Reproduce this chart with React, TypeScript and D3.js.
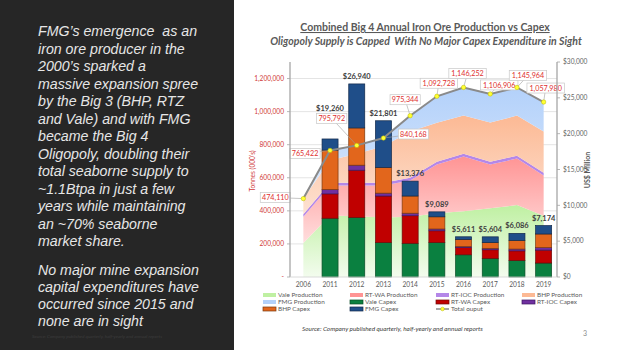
import React from 'react'
import * as d3 from 'd3'

// Data
const years = ['2006', '2011', '2012', '2013', '2014', '2015', '2016', '2017', '2018', '2019']

// production, tonnes (000's)
const valeProd = [205000, 372000, 368000, 360000, 365000, 385000, 398000, 415000, 435000, 370000]
const rtwaProd = [160000, 181000, 185000, 193000, 218000, 295000, 330000, 265000, 281000, 243000]
const rtiocProd = [15000, 17000, 17000, 17000, 17000, 17000, 17000, 17000, 17000, 17000]
const bhpProd = [94110, 135422, 175792, 220168, 279344, 235728, 231252, 236906, 242964, 249980]
const fmgProd = [0, 60000, 50000, 50000, 96000, 160000, 170000, 173000, 170000, 178000]
const totalOutput = [474110, 765422, 795792, 840168, 975344, 1092728, 1146252, 1106906, 1145964, 1057980]

// capex, US$ million
const valeCapex = [0, 8200, 8300, 4800, 4700, 4800, 3100, 2600, 2300, 1950]
const rtwaCapex = [0, 3400, 6600, 6500, 3850, 1650, 1000, 1200, 1350, 1800]
const rtiocCapex = [0, 600, 700, 400, 350, 250, 150, 200, 250, 350]
const bhpCapex = [0, 5500, 5200, 3600, 2400, 1700, 1000, 800, 1200, 1900]
const fmgCapex = [0, 1560, 6140, 6501, 2076, 689, 361, 804, 986, 1174]

const leftTicks = [0, 200000, 400000, 600000, 800000, 1000000, 1200000]
const rightTicks = [0, 5000, 10000, 15000, 20000, 25000, 30000]

const leftText = [
  'FMG’s emergence  as an',
  'iron ore producer in the',
  '2000’s sparked a',
  'massive expansion spree',
  'by the Big 3 (BHP, RTZ',
  'and Vale) and with FMG',
  'became the Big 4',
  'Oligopoly, doubling their',
  'total seaborne supply to',
  '~1.1Btpa in just a few',
  'years while maintaining',
  'an ~70% seaborne',
  'market share.',
]
const leftText2 = [
  'No major mine expansion',
  'capital expenditures have',
  'occurred since 2015 and',
  'none are in sight',
]

const prodKeys = ['vale', 'rtwa', 'rtioc', 'bhp', 'fmg']
const capexKeys = ['vale', 'rtwa', 'rtioc', 'bhp', 'fmg']

const prodFill: Record<string, [string, string]> = {
  vale: ['#bff0a2', '#f3fcee'],
  rtwa: ['#ff9494', '#ffdede'],
  rtioc: ['#b487e8', '#b487e8'],
  bhp: ['#fcb994', '#fde2d2'],
  fmg: ['#b3d1fa', '#d8e7fc'],
}
const capexFill: Record<string, string> = {
  vale: '#0a8040',
  rtwa: '#c00000',
  rtioc: '#7030a0',
  bhp: '#e2661c',
  fmg: '#1f4e89',
}
const capexStroke: Record<string, string> = {
  vale: '#0b4d27',
  rtwa: '#6d0a0a',
  rtioc: '#3d1660',
  bhp: '#7a3a10',
  fmg: '#12294a',
}

// offsets of the total output labels from their points
const labelOffsets = [
  [-28, -1], [-25, 3], [-25, -27], [30, -4], [-5, -16],
  [2, -13], [4, -14], [9, -9], [11, -12], [2, -14],
]

const legendItems = [
  { name: 'Vale Production', kind: 'prod', key: 'vale' },
  { name: 'RT-WA Production', kind: 'prod', key: 'rtwa' },
  { name: 'RT-IOC Production', kind: 'prod', key: 'rtioc' },
  { name: 'BHP Production', kind: 'prod', key: 'bhp' },
  { name: 'FMG Production', kind: 'prod', key: 'fmg' },
  { name: 'Vale Capex', kind: 'capex', key: 'vale' },
  { name: 'RT-WA Capex', kind: 'capex', key: 'rtwa' },
  { name: 'RT-IOC Capex', kind: 'capex', key: 'rtioc' },
  { name: 'BHP Capex', kind: 'capex', key: 'bhp' },
  { name: 'FMG Capex', kind: 'capex', key: 'fmg' },
  { name: 'Total ouput', kind: 'line', key: 'total' },
]

const font = 'Lato, "Open Sans", sans-serif'
const panelFont = '"Liberation Sans", Arial, sans-serif'

export default function App() {
  const W = 623
  const H = 350

  const x = d3.scaleBand().domain(years).range([290, 557])
  const cx = (yr: string) => (x(yr) as number) + x.bandwidth() / 2
  const barW = x.bandwidth() * 0.6
  const yL = d3.scaleLinear().domain([0, 1300000]).range([277, 62])
  const yR = d3.scaleLinear().domain([0, 30000]).range([277, 62])

  const prodRows = years.map((yr, i) => ({
    year: yr,
    vale: valeProd[i],
    rtwa: rtwaProd[i],
    rtioc: rtiocProd[i],
    bhp: bhpProd[i],
    fmg: fmgProd[i],
  }))
  const capexRows = years.map((yr, i) => ({
    year: yr,
    vale: valeCapex[i],
    rtwa: rtwaCapex[i],
    rtioc: rtiocCapex[i],
    bhp: bhpCapex[i],
    fmg: fmgCapex[i],
  }))

  const prodStack = d3.stack<any>().keys(prodKeys)(prodRows)
  const capexStack = d3.stack<any>().keys(capexKeys)(capexRows)

  const area = d3
    .area<any>()
    .x(d => cx(d.data.year))
    .y0(d => yL(d[0]))
    .y1(d => yL(d[1]))

  const line = d3
    .line<number>()
    .x((d, i) => cx(years[i]))
    .y(d => yL(d))

  const fmtL = d3.format(',')
  const fmtR = d3.format('$,')

  const panelText = { fontStyle: 'italic', whiteSpace: 'pre' } as React.CSSProperties

  return (
    <svg width={W} height={H} style={{ display: 'block', fontFamily: font }}>
      <style>{`body{margin:0}`}</style>
      <rect width={W} height={H} fill="#ffffff" />
      <defs>
        {prodKeys.map(k => (
          <linearGradient key={k} id={'g-' + k} x1="0" y1="0" x2="0" y2="1">
            <stop offset="0" stopColor={prodFill[k][0]} />
            <stop offset="1" stopColor={prodFill[k][1]} />
          </linearGradient>
        ))}
      </defs>

      {/* left text panel */}
      <rect x={0} y={0} width={234} height={H} fill="#262626" />
      <g fill="#e6e6e6" fontSize={14.2} fontFamily={panelFont}>
        {leftText.map((t, i) => (
          <text key={i} x={38} y={36 + i * 17.5} fontStyle="italic" style={panelText}>
            {t}
          </text>
        ))}
        {leftText2.map((t, i) => (
          <text key={i} x={38} y={275 + i * 17} fontStyle="italic" style={panelText}>
            {t}
          </text>
        ))}
      </g>
      <text x={32} y={338} fontSize={4.6} fontStyle="italic" fill="#3d3d3d">
        Source: Company published quarterly, half-yearly and annual reports
      </text>

      {/* titles */}
      <text x={425} y={31} textAnchor="middle" fontSize={10.5} fontWeight="bold" fill="#595959" textDecoration="underline">
        Combined Big 4 Annual Iron Ore Production vs Capex
      </text>
      <text x={426} y={45} textAnchor="middle" fontSize={10.5} fontWeight="bold" fontStyle="italic" fill="#595959" style={{ whiteSpace: 'pre' }}>
        Oligopoly Supply is Capped  With No Major Capex Expenditure in Sight
      </text>

      {/* gridlines */}
      {leftTicks.slice(1).map(t => (
        <line key={t} x1={290} x2={557} y1={yL(t)} y2={yL(t)} stroke="#e4e4e4" strokeWidth={1} />
      ))}

      {/* production areas */}
      {prodStack.map(s => (
        <path key={s.key} d={area(s) as string} fill={`url(#g-${s.key})`} />
      ))}

      {/* capex bars */}
      {capexStack.map(s => (
        <g key={s.key}>
          {s.map((d: any, i: number) =>
            d[1] - d[0] > 0 ? (
              <rect
                key={i}
                x={cx(d.data.year) - barW / 2}
                y={yR(d[1])}
                width={barW}
                height={yR(d[0]) - yR(d[1])}
                fill={capexFill[s.key]}
                stroke={capexStroke[s.key]}
                strokeWidth={0.7}
              />
            ) : null
          )}
        </g>
      ))}
      {capexRows.map((r, i) => {
        const tot = capexStack[capexStack.length - 1][i][1]
        if (tot <= 0) return null
        const lift = r.year === '2011' ? 28 : 5
        return (
          <text key={i} x={cx(r.year)} y={yR(tot) - lift} textAnchor="middle" fontSize={7.5} fontWeight="bold" fill="#404040">
            {fmtR(tot)}
          </text>
        )
      })}

      {/* total output line */}
      <path d={line(totalOutput) as string} fill="none" stroke="#8a8a8a" strokeWidth={2} />
      {totalOutput.map((v, i) => {
        const px = cx(years[i])
        const py = yL(v)
        const [dx, dy] = labelOffsets[i]
        const label = fmtL(v)
        const bw = label.length * 3.6 + 5
        return (
          <g key={i}>
            <line x1={px} y1={py} x2={px + dx} y2={py + dy} stroke="#a0a0a0" strokeWidth={0.6} />
            <rect x={px + dx - bw / 2} y={py + dy - 5} width={bw} height={10} fill="#ffffff" stroke="#c8c8c8" strokeWidth={0.7} />
            <text x={px + dx} y={py + dy + 2.6} textAnchor="middle" fontSize={7.2} fill="#e0302f">
              {label}
            </text>
          </g>
        )
      })}
      {totalOutput.map((v, i) => (
        <circle key={i} cx={cx(years[i])} cy={yL(v)} r={2.2} fill="#ffff33" stroke="#b8b800" strokeWidth={0.5} />
      ))}

      {/* left axis */}
      <line x1={290} x2={290} y1={62} y2={277} stroke="#a6a6a6" strokeWidth={1.3} />
      {leftTicks.map(t => (
        <g key={t}>
          <line x1={287} x2={290} y1={yL(t)} y2={yL(t)} stroke="#a6a6a6" strokeWidth={0.8} />
          <text x={284} y={yL(t) + 2.3} textAnchor="end" fontSize={6.6} fill="#d03a3a">
            {t === 0 ? '-' : fmtL(t)}
          </text>
        </g>
      ))}
      <text transform="translate(255,171) rotate(-90)" textAnchor="middle" fontSize={6.6} fill="#d03a3a">
        Tonnes (000's)
      </text>

      {/* right axis */}
      <line x1={557} x2={557} y1={62} y2={277} stroke="#a6a6a6" strokeWidth={1.3} />
      {rightTicks.map(t => (
        <g key={t}>
          <line x1={557} x2={560} y1={yR(t)} y2={yR(t)} stroke="#a6a6a6" strokeWidth={0.8} />
          <text x={563} y={yR(t) + 2.3} fontSize={6.6} fill="#666666">
            {fmtR(t)}
          </text>
        </g>
      ))}
      <text transform="translate(590,170) rotate(-90)" textAnchor="middle" fontSize={7} fontWeight="bold" fill="#595959">
        US$ Million
      </text>

      {/* x axis */}
      <line x1={290} x2={557} y1={277} y2={277} stroke="#d0d0d0" strokeWidth={0.8} />
      {years.map(yr => (
        <text key={yr} x={cx(yr)} y={287} textAnchor="middle" fontSize={6.6} fill="#595959">
          {yr}
        </text>
      ))}

      {/* legend */}
      {legendItems.map((it, i) => {
        const col = i % 4
        const row = Math.floor(i / 4)
        const lx = [263, 350, 436, 522][col]
        const ly = 295 + row * 7
        return (
          <g key={it.name}>
            {it.kind === 'prod' && (
              <rect x={lx} y={ly - 2} width={13} height={4} fill={prodFill[it.key][0]} />
            )}
            {it.kind === 'capex' && (
              <rect x={lx} y={ly - 2} width={13} height={4} fill={capexFill[it.key]} stroke={capexStroke[it.key]} strokeWidth={0.7} />
            )}
            {it.kind === 'line' && (
              <g>
                <line x1={lx} x2={lx + 13} y1={ly} y2={ly} stroke="#8a8a8a" strokeWidth={1.5} />
                <circle cx={lx + 6.5} cy={ly} r={1.8} fill="#ffff33" stroke="#b8b800" strokeWidth={0.5} />
              </g>
            )}
            <text x={lx + 15} y={ly + 2.3} fontSize={6.4} fill="#595959">
              {it.name}
            </text>
          </g>
        )
      })}

      {/* source + page */}
      <text x={302} y={331} fontSize={6.4} fontStyle="italic" fill="#404040">
        Source: Company published quarterly, half-yearly and annual reports
      </text>
      <text x={583} y={336} fontSize={7} fill="#8c8c8c">
        3
      </text>
    </svg>
  )
}
